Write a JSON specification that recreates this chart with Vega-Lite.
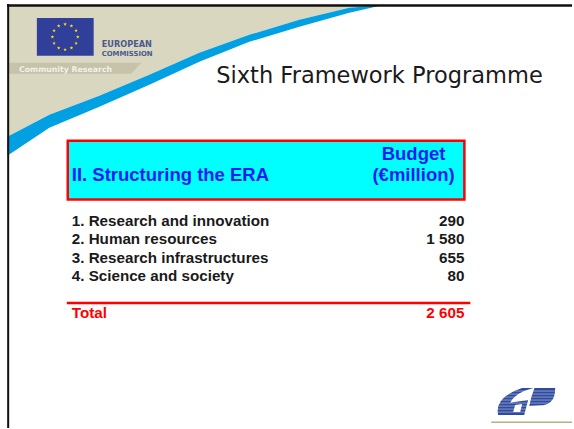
{
  "$schema": "https://vega.github.io/schema/vega-lite/v6.json",
  "width": 574,
  "height": 429,
  "autosize": {"type": "fit", "contains": "padding"},
  "padding": 0,
  "background": "#ffffff",
  "config": {
    "view": {"stroke": null},
    "axis": {"disable": true},
    "locale": {"number": {"decimal": ".", "thousands": " ", "grouping": [3], "currency": ["", " €"]}}
  },
  "resolve": {"scale": {"y": "independent"}},
  "layer": [
    {
      "data": {"values": [{}]},
      "layer": [
        {
          "mark": {"type": "point", "filled": true, "opacity": 1, "color": "#d9d7c0", "size": 144400,
            "shape": "M-0.9947,-0.3947L0.9895,-0.3947L0.8053,-0.3789L0.5421,-0.3158L0.2789,-0.2368L0.0158,-0.1421L-0.2474,-0.0263L-0.5105,0.0842L-0.7737,0.1842L-0.9947,0.3Z"},
          "encoding": {
            "x": {"datum": 197, "scale": {"domain": [0, 574], "nice": false, "zero": false}, "axis": null},
            "y": {"datum": 80, "scale": {"domain": [0, 429], "nice": false, "zero": false, "reverse": true}, "axis": null}
          }
        },
        {
          "mark": {"type": "point", "filled": true, "opacity": 1, "color": "#c6c3aa", "size": 144400,
            "shape": "M-0.9895,-0.0895L-0.2895,-0.0895L-0.3421,-0.0316L-0.9895,-0.0316Z"},
          "encoding": {
            "x": {"datum": 197, "scale": {"domain": [0, 574], "nice": false, "zero": false}, "axis": null},
            "y": {"datum": 80, "scale": {"domain": [0, 429], "nice": false, "zero": false, "reverse": true}, "axis": null}
          }
        },
        {
          "mark": {"type": "point", "filled": true, "opacity": 1, "color": "#00a0e3", "size": 144400,
            "shape": "M-0.9947,0.3L-0.7737,0.1842L-0.5105,0.0842L-0.2474,-0.0263L0.0158,-0.1421L0.2789,-0.2368L0.5421,-0.3158L0.8053,-0.3789L0.9895,-0.3947L0.8053,-0.3526L0.5421,-0.2789L0.2789,-0.2L0.0158,-0.0947L-0.2474,0.0263L-0.5105,0.1421L-0.7737,0.2526L-0.9947,0.4Z"},
          "encoding": {
            "x": {"datum": 197, "scale": {"domain": [0, 574], "nice": false, "zero": false}, "axis": null},
            "y": {"datum": 80, "scale": {"domain": [0, 429], "nice": false, "zero": false, "reverse": true}, "axis": null}
          }
        },
        {
          "mark": {"type": "rect", "color": "#30409a"},
          "encoding": {
            "x": {"datum": 37, "scale": {"domain": [0, 574], "nice": false, "zero": false}, "axis": null},
            "x2": {"datum": 94},
            "y": {"datum": 18, "scale": {"domain": [0, 429], "nice": false, "zero": false, "reverse": true}, "axis": null},
            "y2": {"datum": 56}
          }
        },
        {
          "mark": {"type": "point", "filled": true, "opacity": 1, "color": "#ffe000", "size": 900,
            "shape": "M0,-0.977l0.029,0.09l0.095,0l-0.077,0.055l0.029,0.09l-0.076,-0.055l-0.076,0.055l0.029,-0.09l-0.077,-0.055l0.095,0z M0.4235,-0.8635l0.029,0.09l0.095,0l-0.077,0.055l0.029,0.09l-0.076,-0.055l-0.076,0.055l0.029,-0.09l-0.077,-0.055l0.095,0z M0.7335,-0.5535l0.029,0.09l0.095,0l-0.077,0.055l0.029,0.09l-0.076,-0.055l-0.076,0.055l0.029,-0.09l-0.077,-0.055l0.095,0z M0.847,-0.13l0.029,0.09l0.095,0l-0.077,0.055l0.029,0.09l-0.076,-0.055l-0.076,0.055l0.029,-0.09l-0.077,-0.055l0.095,0z M0.7335,0.2935l0.029,0.09l0.095,0l-0.077,0.055l0.029,0.09l-0.076,-0.055l-0.076,0.055l0.029,-0.09l-0.077,-0.055l0.095,0z M0.4235,0.6035l0.029,0.09l0.095,0l-0.077,0.055l0.029,0.09l-0.076,-0.055l-0.076,0.055l0.029,-0.09l-0.077,-0.055l0.095,0z M0,0.717l0.029,0.09l0.095,0l-0.077,0.055l0.029,0.09l-0.076,-0.055l-0.076,0.055l0.029,-0.09l-0.077,-0.055l0.095,0z M-0.4235,0.6035l0.029,0.09l0.095,0l-0.077,0.055l0.029,0.09l-0.076,-0.055l-0.076,0.055l0.029,-0.09l-0.077,-0.055l0.095,0z M-0.7335,0.2935l0.029,0.09l0.095,0l-0.077,0.055l0.029,0.09l-0.076,-0.055l-0.076,0.055l0.029,-0.09l-0.077,-0.055l0.095,0z M-0.847,-0.13l0.029,0.09l0.095,0l-0.077,0.055l0.029,0.09l-0.076,-0.055l-0.076,0.055l0.029,-0.09l-0.077,-0.055l0.095,0z M-0.7335,-0.5535l0.029,0.09l0.095,0l-0.077,0.055l0.029,0.09l-0.076,-0.055l-0.076,0.055l0.029,-0.09l-0.077,-0.055l0.095,0z M-0.4235,-0.8635l0.029,0.09l0.095,0l-0.077,0.055l0.029,0.09l-0.076,-0.055l-0.076,0.055l0.029,-0.09l-0.077,-0.055l0.095,0z"},
          "encoding": {
            "x": {"datum": 65.3, "scale": {"domain": [0, 574], "nice": false, "zero": false}, "axis": null},
            "y": {"datum": 37, "scale": {"domain": [0, 429], "nice": false, "zero": false, "reverse": true}, "axis": null}
          }
        },
        {
          "mark": {"type": "text", "text": "EUROPEAN", "align": "left", "baseline": "alphabetic", "font": "DejaVu Sans", "fontWeight": "bold", "fontSize": 8.2, "color": "#4a5a8e"},
          "encoding": {
            "x": {"datum": 102, "scale": {"domain": [0, 574], "nice": false, "zero": false}, "axis": null},
            "y": {"datum": 46.8, "scale": {"domain": [0, 429], "nice": false, "zero": false, "reverse": true}, "axis": null}
          }
        },
        {
          "mark": {"type": "text", "text": "COMMISSION", "align": "left", "baseline": "alphabetic", "font": "DejaVu Sans", "fontWeight": "bold", "fontSize": 6.9, "color": "#4a5a8e"},
          "encoding": {
            "x": {"datum": 102, "scale": {"domain": [0, 574], "nice": false, "zero": false}, "axis": null},
            "y": {"datum": 56.5, "scale": {"domain": [0, 429], "nice": false, "zero": false, "reverse": true}, "axis": null}
          }
        },
        {
          "mark": {"type": "text", "text": "Community Research", "align": "left", "baseline": "alphabetic", "font": "DejaVu Sans", "fontWeight": "bold", "fontSize": 7.8, "color": "#f2f1ea"},
          "encoding": {
            "x": {"datum": 19, "scale": {"domain": [0, 574], "nice": false, "zero": false}, "axis": null},
            "y": {"datum": 72, "scale": {"domain": [0, 429], "nice": false, "zero": false, "reverse": true}, "axis": null}
          }
        },
        {
          "mark": {"type": "text", "text": "Sixth Framework Programme", "align": "left", "baseline": "alphabetic", "font": "DejaVu Sans", "fontSize": 22.5, "color": "#1a1a1a"},
          "encoding": {
            "x": {"datum": 217, "scale": {"domain": [0, 574], "nice": false, "zero": false}, "axis": null},
            "y": {"datum": 83, "scale": {"domain": [0, 429], "nice": false, "zero": false, "reverse": true}, "axis": null}
          }
        },
        {
          "mark": {"type": "rect", "fill": "#00ffff", "stroke": "#ff0000", "strokeWidth": 2.5},
          "encoding": {
            "x": {"datum": 68, "scale": {"domain": [0, 574], "nice": false, "zero": false}, "axis": null},
            "x2": {"datum": 466},
            "y": {"datum": 141.2, "scale": {"domain": [0, 429], "nice": false, "zero": false, "reverse": true}, "axis": null},
            "y2": {"datum": 200}
          }
        },
        {
          "mark": {"type": "text", "text": "II. Structuring the ERA", "align": "left", "baseline": "alphabetic", "font": "Liberation Sans", "fontWeight": "bold", "fontSize": 18.5, "color": "#1c1cf0"},
          "encoding": {
            "x": {"datum": 72, "scale": {"domain": [0, 574], "nice": false, "zero": false}, "axis": null},
            "y": {"datum": 181.7, "scale": {"domain": [0, 429], "nice": false, "zero": false, "reverse": true}, "axis": null}
          }
        },
        {
          "mark": {"type": "text", "text": "Budget", "align": "center", "baseline": "alphabetic", "font": "Liberation Sans", "fontWeight": "bold", "fontSize": 18.5, "color": "#1c1cf0"},
          "encoding": {
            "x": {"datum": 415, "scale": {"domain": [0, 574], "nice": false, "zero": false}, "axis": null},
            "y": {"datum": 160, "scale": {"domain": [0, 429], "nice": false, "zero": false, "reverse": true}, "axis": null}
          }
        },
        {
          "mark": {"type": "text", "text": "(€million)", "align": "center", "baseline": "alphabetic", "font": "Liberation Sans", "fontWeight": "bold", "fontSize": 18.5, "color": "#1c1cf0"},
          "encoding": {
            "x": {"datum": 415, "scale": {"domain": [0, 574], "nice": false, "zero": false}, "axis": null},
            "y": {"datum": 181.7, "scale": {"domain": [0, 429], "nice": false, "zero": false, "reverse": true}, "axis": null}
          }
        },
        {
          "mark": {"type": "rule", "color": "#ff0000", "strokeWidth": 2.5},
          "encoding": {
            "x": {"datum": 67, "scale": {"domain": [0, 574], "nice": false, "zero": false}, "axis": null},
            "x2": {"datum": 472},
            "y": {"datum": 303.8, "scale": {"domain": [0, 429], "nice": false, "zero": false, "reverse": true}, "axis": null}
          }
        },
        {
          "mark": {"type": "point", "filled": true, "opacity": 1, "color": "#2e4b9e", "size": 3844,
            "shape": "M-0.871,0.419Q-1.0,-0.161 -0.097,-0.452L0.258,-0.452Q-0.484,-0.258 -0.548,0.226L-0.613,0.419Z M-0.548,0.032L0.097,-0.065L-0.032,0.419L-0.613,0.419Z M-0.323,0.097L-0.387,0.323L-0.161,0.323L-0.097,0.065Z M0.3,-0.452L0.968,-0.452Q0.97,0.05 0.58,0.1L0.13,0.129L0.2,-0.161Z"},
          "encoding": {
            "x": {"datum": 527, "scale": {"domain": [0, 574], "nice": false, "zero": false}, "axis": null},
            "y": {"datum": 403, "scale": {"domain": [0, 429], "nice": false, "zero": false, "reverse": true}, "axis": null}
          }
        },
        {
          "mark": {"type": "point", "filled": false, "opacity": 0.55, "color": "#ffffff", "strokeWidth": 0.8, "size": 3844,
            "shape": "M-1,-0.355L1,-0.355M-1,-0.258L1,-0.258M-1,-0.161L1,-0.161M-1,-0.065L1,-0.065M-1,0.032L1,0.032M-1,0.129L1,0.129M-1,0.226L1,0.226M-1,0.323L1,0.323"},
          "encoding": {
            "x": {"datum": 527, "scale": {"domain": [0, 574], "nice": false, "zero": false}, "axis": null},
            "y": {"datum": 403, "scale": {"domain": [0, 429], "nice": false, "zero": false, "reverse": true}, "axis": null}
          }
        },
        {
          "mark": {"type": "rule", "color": "#b7af88", "strokeWidth": 1.5},
          "encoding": {
            "x": {"datum": 493, "scale": {"domain": [0, 574], "nice": false, "zero": false}, "axis": null},
            "x2": {"datum": 574},
            "y": {"datum": 423.3, "scale": {"domain": [0, 429], "nice": false, "zero": false, "reverse": true}, "axis": null}
          }
        },
        {
          "mark": {"type": "rule", "color": "#111111", "strokeWidth": 2},
          "encoding": {
            "x": {"datum": 8.2, "scale": {"domain": [0, 574], "nice": false, "zero": false}, "axis": null},
            "y": {"datum": 4, "scale": {"domain": [0, 429], "nice": false, "zero": false, "reverse": true}, "axis": null},
            "y2": {"datum": 429}
          }
        },
        {
          "mark": {"type": "rule", "color": "#111111", "strokeWidth": 2.5},
          "encoding": {
            "x": {"datum": 7, "scale": {"domain": [0, 574], "nice": false, "zero": false}, "axis": null},
            "x2": {"datum": 574},
            "y": {"datum": 5.6, "scale": {"domain": [0, 429], "nice": false, "zero": false, "reverse": true}, "axis": null}
          }
        }
      ]
    },
    {
      "data": {"values": [
        {"item": "1. Research and innovation", "budget": 290, "kind": "item"},
        {"item": "2. Human resources", "budget": 1580, "kind": "item"},
        {"item": "3. Research infrastructures", "budget": 655, "kind": "item"},
        {"item": "4. Science and society", "budget": 80, "kind": "item"},
        {"item": "Total", "budget": 2605, "kind": "total"}
      ]},
      "encoding": {
        "y": {"field": "item", "type": "nominal", "axis": null,
          "scale": {"type": "point", "padding": 0, "range": [226, 317.7],
            "domain": ["1. Research and innovation", "2. Human resources", "3. Research infrastructures", "4. Science and society", "", "Total"]}},
        "color": {"field": "kind", "type": "nominal", "legend": null,
          "scale": {"domain": ["item", "total"], "range": ["#1a1a1a", "#ff0000"]}}
      },
      "layer": [
        {
          "mark": {"type": "text", "align": "left", "baseline": "alphabetic", "font": "Liberation Sans", "fontWeight": "bold", "fontSize": 15.2},
          "encoding": {
            "x": {"datum": 72, "scale": {"domain": [0, 574], "nice": false, "zero": false}, "axis": null},
            "text": {"field": "item"}
          }
        },
        {
          "mark": {"type": "text", "align": "right", "baseline": "alphabetic", "font": "Liberation Sans", "fontWeight": "bold", "fontSize": 15.2},
          "encoding": {
            "x": {"datum": 466, "scale": {"domain": [0, 574], "nice": false, "zero": false}, "axis": null},
            "text": {"field": "budget", "type": "quantitative", "format": ",d"}
          }
        }
      ]
    }
  ]
}
